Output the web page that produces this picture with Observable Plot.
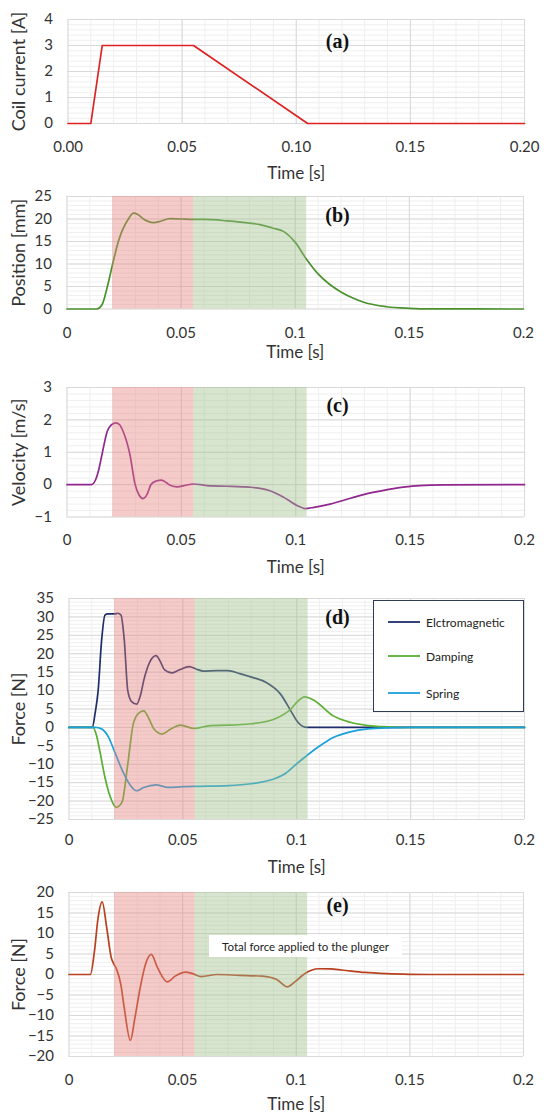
<!DOCTYPE html>
<html><head><meta charset="utf-8">
<script src="https://cdn.jsdelivr.net/npm/d3@7"></script>
<script src="https://cdn.jsdelivr.net/npm/@observablehq/plot@0.6"></script>
<style>
body{margin:0;background:#fff}
#root{position:relative;width:550px;height:1118px;overflow:hidden;font-family:Lato,sans-serif}
#root > svg{position:absolute;left:0}
.legend{position:absolute;left:373px;top:600px;width:149px;height:110px;border:1.5px solid #2f3b52;background:#fff}
.legend .row{position:absolute;left:14px;height:14px;display:flex;align-items:center;font-size:12px;color:#222}
.legend .row svg{margin-right:6px;display:block}
.note{position:absolute;left:209px;top:935px;width:193px;height:22px;background:#fff;font-size:11.5px;color:#222;display:flex;align-items:center;justify-content:center}
</style>
</head><body><div id="root"></div>
<script>
// ---------- data ----------
const timeTicks = [0, 0.05, 0.1, 0.15, 0.2];
const shadeStart = [0.02, 0.0555];
const shadeEnd = [0.0555, 0.105];

const currentT = [0, 0.01, 0.015, 0.055, 0.105, 0.2];
const currentA = [0, 0, 3, 3, 0, 0];

const posT = [0,0.013,0.0154,0.0177,0.02,0.0225,0.0269,0.0292,0.031,0.0335,0.0379,0.041,0.045,0.05,0.055,0.06,0.07,0.08,0.085,0.09,0.095,0.1,0.105,0.11,0.115,0.12,0.125,0.13,0.14,0.15,0.16,0.2];
const posMm = [0,0,1,5,10,15,20,21.3,21.0,20.0,19.2,19.5,20.1,20.0,19.9,19.9,19.6,19.1,18.7,18.0,17.2,14.8,11.0,7.8,5.5,3.8,2.5,1.5,0.5,0.15,0.03,0];

const velT = [0,0.0107,0.0125,0.014,0.0153,0.0176,0.0195,0.0214,0.023,0.0245,0.0275,0.0298,0.0315,0.0332,0.035,0.0367,0.039,0.0413,0.0435,0.0451,0.0482,0.052,0.0551,0.0627,0.07,0.08,0.0884,0.0945,0.101,0.104,0.108,0.115,0.124,0.13,0.139,0.147,0.154,0.165,0.2];
const velMs = [0,0,0.15,0.5,0.93,1.65,1.85,1.91,1.85,1.65,0.93,0,-0.32,-0.43,-0.3,0,0.11,0.14,0.06,-0.02,-0.07,-0.02,0.02,-0.04,-0.05,-0.08,-0.18,-0.38,-0.66,-0.74,-0.7,-0.6,-0.42,-0.3,-0.17,-0.08,-0.03,-0.01,0];

const emT = [0,0.0102,0.0115,0.0128,0.0143,0.0158,0.017,0.02,0.0215,0.0228,0.0243,0.0258,0.0275,0.0297,0.0315,0.0328,0.0355,0.0382,0.04,0.042,0.0451,0.048,0.0528,0.056,0.059,0.065,0.0697,0.075,0.0805,0.0866,0.0928,0.0974,0.1005,0.1035,0.106,0.2];
const emN = [0,0,4,10,23.5,30.5,30.8,30.8,31,30.5,23.5,10,7,6.3,9,12.7,17.8,19.5,18,15.6,14.8,15.5,16.5,15.8,15.3,15.4,15.4,14.6,13.6,12.2,9.1,4.5,1.4,0.1,0,0];

const dampT = [0,0.0105,0.012,0.0135,0.0158,0.0182,0.0208,0.0225,0.0235,0.0258,0.0282,0.0305,0.0328,0.035,0.0374,0.0409,0.0445,0.0489,0.0551,0.062,0.07,0.08,0.085,0.09,0.095,0.0974,0.1,0.1035,0.108,0.1158,0.1235,0.1312,0.14,0.15,0.2];
const dampN = [0,0,-2,-6.3,-13.6,-19,-21.7,-21,-19.9,-10,0.9,3.8,4.5,2.5,-0.5,-1.8,-0.5,0.6,-0.3,0.5,0.6,1.0,1.4,2.2,3.8,5.0,6.8,8.3,7.2,3.2,1.4,0.5,0.15,0,0];

const springT = [0,0.0115,0.0143,0.0174,0.0204,0.0235,0.0266,0.0297,0.0328,0.0382,0.0435,0.05,0.056,0.07,0.08,0.085,0.09,0.095,0.099,0.1035,0.1097,0.1158,0.1235,0.1312,0.14,0.15,0.2];
const springN = [0,0,-0.4,-2.7,-7.2,-11.8,-15.4,-17.2,-16.3,-15.6,-16.3,-16.1,-16.0,-15.8,-15.3,-14.8,-14.0,-12.5,-10.4,-8.1,-5.2,-2.8,-1.2,-0.4,-0.1,0,0];

const totT = [0,0.0094,0.0112,0.0128,0.0146,0.0166,0.0186,0.0195,0.021,0.0228,0.0243,0.027,0.029,0.0313,0.0336,0.0362,0.039,0.0433,0.0467,0.0513,0.0544,0.0582,0.0652,0.075,0.085,0.0914,0.096,0.0998,0.1037,0.1099,0.115,0.12,0.13,0.14,0.15,0.16,0.2];
const totN = [0,0,5.7,13.8,17.7,11.4,4.1,2.8,1.2,-2.4,-8.1,-16.1,-10.6,-3.3,2.4,4.9,1.6,-1.8,-0.4,0.6,0.2,-0.5,0,-0.2,-0.4,-1.2,-3.0,-1.6,0.2,1.4,1.35,1.1,0.5,0.2,0.05,0,0];

const legendNames = ["Elctromagnetic", "Damping", "Spring"];

// ---------- helpers ----------
const rows = (ts, vs) => ts.map((t, i) => ({t, v: vs[i]}));
const shadeRows = shadeStart.map((s, i) => ({x1: s, x2: shadeEnd[i]}));
const xMinor = d3.range(0, 21).map(i => i / 100);
const root = document.getElementById("root");

function panel(cfg) {
  const MT = 20, MB = 62;
  const height = cfg.bottom - cfg.top + MT + MB;
  const marks = [
    Plot.gridX(xMinor, {stroke: "#efefef", strokeOpacity: 1}),
    Plot.gridY(cfg.yMinor, {stroke: "#efefef", strokeOpacity: 1}),
    Plot.gridX(timeTicks, {stroke: "#d9d9d9", strokeOpacity: 1}),
    Plot.gridY(cfg.yMajor, {stroke: "#d9d9d9", strokeOpacity: 1}),
    ...cfg.series.map(s => Plot.line(s.data, {x: "t", y: "v", stroke: s.color, strokeWidth: 1.7, curve: s.curve || "monotone-x"}))
  ];
  if (cfg.shade) {
    const fills = ["#e4837c", "#9fbf8b"];
    shadeRows.forEach((r, i) => marks.push(Plot.rect([r], {x1: "x1", x2: "x2", y1: () => cfg.yDomain[0], y2: () => cfg.yDomain[1], fill: fills[i], fillOpacity: 0.42})));
  }
  marks.push(Plot.axisX(timeTicks, {tickSize: 0, tickPadding: cfg.xPad, tickFormat: cfg.xFmt, label: "Time [s]", labelAnchor: "center", labelArrow: "none", labelOffset: cfg.xLabOff}));
  marks.push(Plot.axisY(cfg.yMajor, {tickSize: 0, tickPadding: 15, label: cfg.yLabel, labelAnchor: "center", labelArrow: "none", labelOffset: cfg.ml - 12}));
  marks.push(Plot.text([cfg.tag], {frameAnchor: "top-left", dx: 337 - cfg.ml, dy: cfg.tagY - cfg.top, text: d => d, fontFamily: "Liberation Serif", fontWeight: "bold", fontSize: 20, textAnchor: "middle", lineAnchor: "middle", fill: "#111"}));
  const svg = Plot.plot({
    width: 550, height,
    marginTop: MT, marginBottom: MB, marginLeft: cfg.ml, marginRight: cfg.mr,
    style: {fontFamily: "Lato", fontSize: "15px", color: "#333", background: "transparent", overflow: "visible"},
    x: {domain: [0, 0.2]},
    y: {domain: cfg.yDomain},
    marks
  });
  svg.style.top = (cfg.top - MT) + "px";
  svg.querySelectorAll('[aria-label="x-axis label"] text').forEach(t => t.style.fontSize = "17px");
  svg.querySelectorAll('[aria-label="y-axis label"] text').forEach(t => t.style.fontSize = "18px");
  root.appendChild(svg);
}

const fmt2 = d3.format(".2f");
const fmtShort = d => String(+d.toFixed(2));

panel({top: 19, bottom: 123, ml: 67.5, mr: 26, yDomain: [0, 4], yMajor: [0,1,2,3,4], yMinor: d3.range(0, 21).map(i => i * 0.2),
  series: [{data: rows(currentT, currentA), color: "#dd2222", curve: "linear"}],
  xFmt: fmt2, xPad: 18, xLabOff: 55, yLabel: "Coil current [A]", tag: "(a)", tagY: 41, shade: false});

panel({top: 195.5, bottom: 308, ml: 66.5, mr: 27, yDomain: [0, 25], yMajor: [0,5,10,15,20,25], yMinor: d3.range(0, 26),
  series: [{data: rows(posT, posMm), color: "#4a922c"}],
  xFmt: fmtShort, xPad: 18, xLabOff: 49, yLabel: "Position [mm]", tag: "(b)", tagY: 214.5, shade: true});

panel({top: 386.5, bottom: 516, ml: 66.5, mr: 26, yDomain: [-1, 3], yMajor: [-1,0,1,2,3], yMinor: d3.range(0, 21).map(i => -1 + i * 0.2),
  series: [{data: rows(velT, velMs), color: "#90278e"}],
  xFmt: fmtShort, xPad: 17, xLabOff: 56, yLabel: "Velocity [m/s]", tag: "(c)", tagY: 405, shade: true});

const forceColors = ["#1f2c6b", "#5aae32", "#1aa0db"];
panel({top: 598, bottom: 819, ml: 68.5, mr: 26, yDomain: [-25, 35], yMajor: d3.range(-25, 36, 5), yMinor: d3.range(-25, 36),
  series: [
    {data: rows(emT, emN), color: forceColors[0]},
    {data: rows(dampT, dampN), color: forceColors[1]},
    {data: rows(springT, springN), color: forceColors[2]}
  ],
  xFmt: fmtShort, xPad: 15, xLabOff: 53, yLabel: "Force [N]", tag: "(d)", tagY: 617.5, shade: true});

panel({top: 892, bottom: 1056, ml: 68.5, mr: 27, yDomain: [-20, 20], yMajor: d3.range(-20, 21, 5), yMinor: d3.range(-20, 21),
  series: [{data: rows(totT, totN), color: "#b8401f"}],
  xFmt: fmtShort, xPad: 18, xLabOff: 53, yLabel: "Force [N]", tag: "(e)", tagY: 905, shade: true});

// legend for panel (d)
const legendRowY = [21, 55, 92];
const lg = document.createElement("div");
lg.className = "legend";
legendNames.forEach((n, i) => {
  const r = document.createElement("div");
  r.className = "row";
  r.style.top = (legendRowY[i] - 7) + "px";
  r.innerHTML = `<svg width="32" height="4"><line x1="0" x2="32" y1="2" y2="2" stroke="${forceColors[i]}" stroke-width="1.8"/></svg><span>${n}</span>`;
  lg.appendChild(r);
});
root.appendChild(lg);

const note = document.createElement("div");
note.className = "note";
note.textContent = "Total force applied to the plunger";
root.appendChild(note);
</script></body></html>
